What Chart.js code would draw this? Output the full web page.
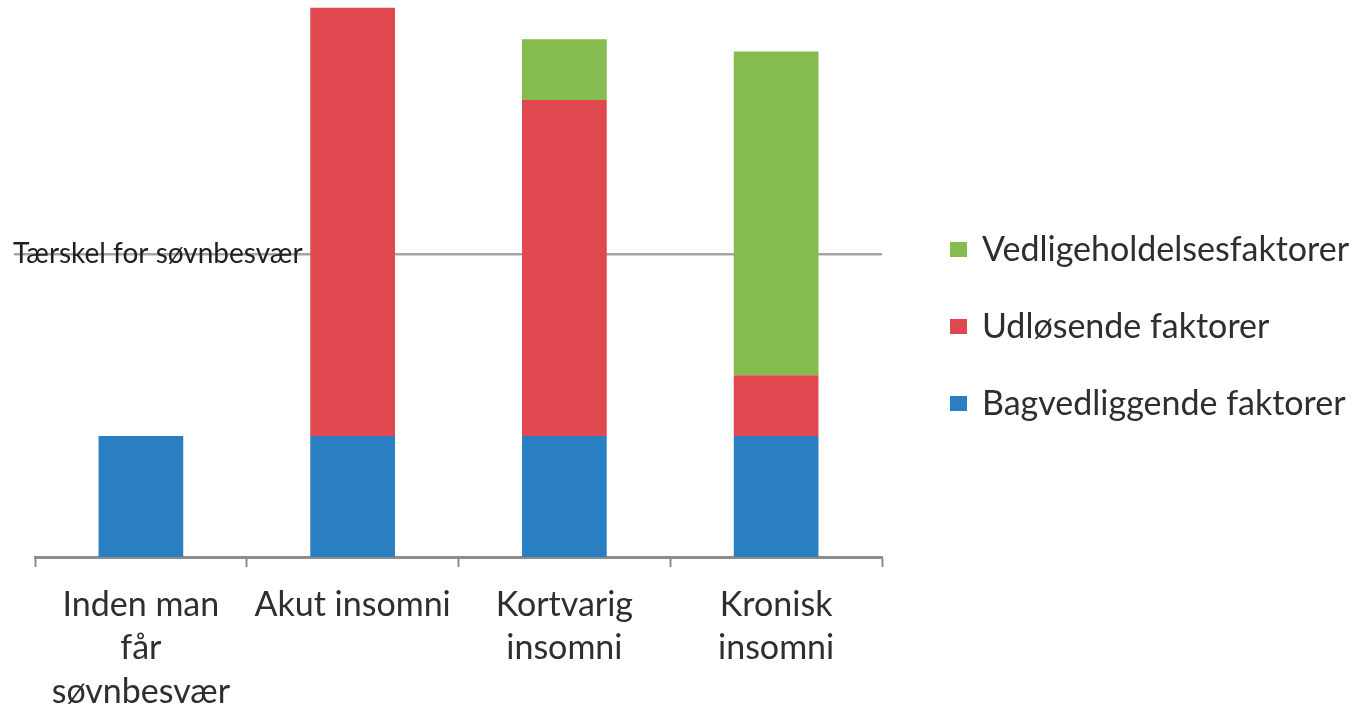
<!DOCTYPE html>
<html>
<head>
<meta charset="utf-8">
<script src="https://cdn.jsdelivr.net/npm/chart.js@4.4.1/dist/chart.umd.min.js"></script>
<style>
  html, body { margin: 0; padding: 0; background: #fff; overflow: hidden; }
  canvas { display: block; }
</style>
</head>
<body>
<canvas id="insomniChart" width="1368" height="715"></canvas>
<script>
// categories (multi-line labels)
const categories = [
    ['Inden man', 'får', 'søvnbesvær'],
    ['Akut insomni'],
    ['Kortvarig', 'insomni'],
    ['Kronisk', 'insomni']
];

// series values (arbitrary units)
const bagvedliggende = [20, 20, 20, 20];
const udloesende = [null, 70.7, 55.5, 10];
const vedligeholdelse = [null, null, 10, 53.5];

const seriesNames = ['Bagvedliggende faktorer', 'Udløsende faktorer', 'Vedligeholdelsesfaktorer'];
const seriesColors = ['#2a7fc2', '#e0474e', '#85bb4f'];

const thresholdValue = 50;
const thresholdLabel = 'Tærskel for søvnbesvær';
const yMax = 92;

const textColor = '#2e2e2e';
const fontFamily = 'Lato, "Open Sans", sans-serif';

// threshold line drawn behind the bars
const thresholdPlugin = {
    id: 'threshold',
    beforeDatasetsDraw(chart) {
        const ctx = chart.ctx;
        const y = chart.scales.y.getPixelForValue(thresholdValue);
        ctx.save();
        ctx.strokeStyle = '#a6a6a6';
        ctx.lineWidth = 2.5;
        ctx.beginPath();
        ctx.moveTo(14, y);
        ctx.lineTo(chart.chartArea.right, y);
        ctx.stroke();

        ctx.font = '28px ' + fontFamily;
        ctx.fillStyle = '#1f1f1f';
        ctx.textBaseline = 'middle';
        ctx.textAlign = 'left';
        ctx.fillText(thresholdLabel, 13, y);
        ctx.restore();
    }
};

// legend on the right, top series first
const legendPlugin = {
    id: 'sideLegend',
    afterDraw(chart) {
        const ctx = chart.ctx;
        const rows = [2, 1, 0];
        ctx.save();
        ctx.font = '34px ' + fontFamily;
        ctx.textBaseline = 'middle';
        ctx.textAlign = 'left';
        rows.forEach((idx, i) => {
            const cy = 250 + i * 77;
            ctx.fillStyle = seriesColors[idx];
            ctx.fillRect(950, cy - 8, 17, 15);
            ctx.fillStyle = textColor;
            ctx.fillText(seriesNames[idx], 982, cy);
        });
        ctx.restore();
    }
};

const ctx = document.getElementById('insomniChart');

new Chart(ctx, {
    type: 'bar',
    data: {
        labels: categories,
        datasets: [
            { label: seriesNames[0], data: bagvedliggende, backgroundColor: seriesColors[0] },
            { label: seriesNames[1], data: udloesende, backgroundColor: seriesColors[1] },
            { label: seriesNames[2], data: vedligeholdelse, backgroundColor: seriesColors[2] }
        ]
    },
    options: {
        responsive: false,
        animation: false,
        devicePixelRatio: 1,
        layout: {
            padding: { left: 35, right: 486, top: 0, bottom: 0 }
        },
        plugins: {
            legend: { display: false },
            tooltip: { enabled: false }
        },
        datasets: {
            bar: { categoryPercentage: 1, barPercentage: 0.4, borderWidth: 0 }
        },
        scales: {
            x: {
                stacked: true,
                afterFit(scale) { scale.height = 158; },
                border: { display: true, color: '#8c8c8c', width: 3 },
                grid: {
                    display: true,
                    offset: true,
                    drawOnChartArea: false,
                    drawTicks: true,
                    tickLength: 10,
                    tickWidth: 2,
                    tickColor: '#8c8c8c'
                },
                ticks: {
                    color: textColor,
                    padding: 16,
                    maxRotation: 0,
                    autoSkip: false,
                    font: { family: fontFamily, size: 34, lineHeight: 1.28 }
                }
            },
            y: {
                stacked: true,
                display: false,
                min: 0,
                max: yMax
            }
        }
    },
    plugins: [thresholdPlugin, legendPlugin]
});
</script>
</body>
</html>
